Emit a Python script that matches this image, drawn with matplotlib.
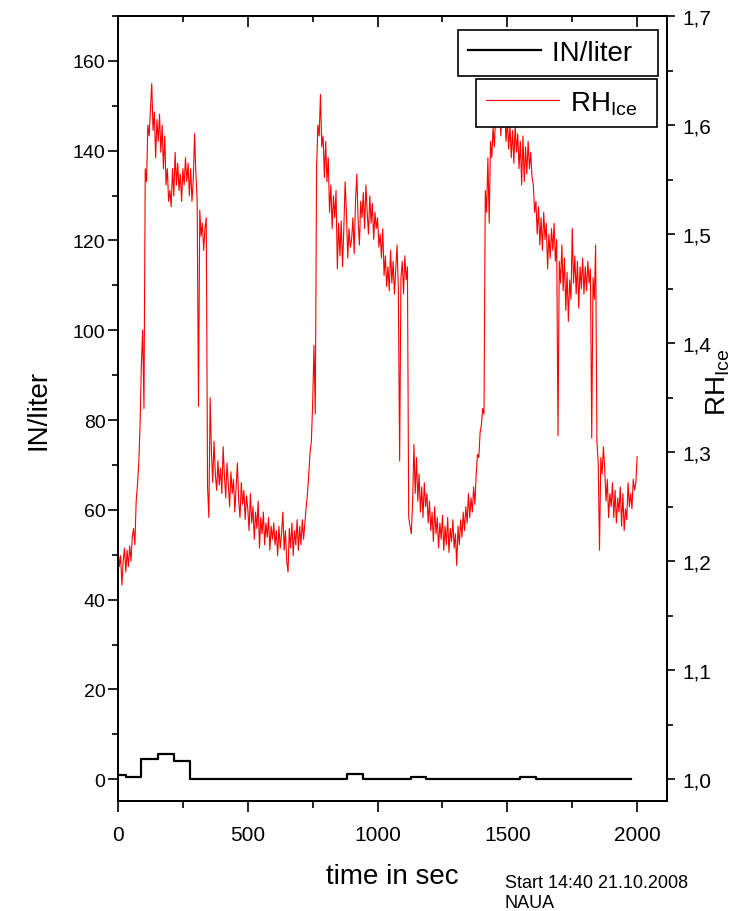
import numpy as np
import matplotlib
matplotlib.use('Agg')
import matplotlib.pyplot as plt
from matplotlib.ticker import MultipleLocator, FixedLocator, FixedFormatter

plt.rcParams['font.family'] = ['Liberation Sans', 'DejaVu Sans']
plt.rcParams['mathtext.fontset'] = 'custom'
plt.rcParams['mathtext.rm'] = 'Liberation Sans'
plt.rcParams['mathtext.it'] = 'Liberation Sans:italic'

# ---------------- data ----------------
# IN/liter step series (bin edges in s, value per bin)
in_edges = [0, 30, 90, 155, 214, 277, 882, 944, 1127, 1187, 1550, 1612, 1978]
in_values = [1.0, 0.5, 4.5, 5.6, 4.1, 0.0, 1.1, 0.0, 0.5, 0.0, 0.5, 0.0]

# RH_ice series, one value every 5 s starting at t = 0
rh_step = 5
rh_values = [
    1.214, 1.195, 1.205, 1.178, 1.200, 1.212, 1.190, 1.210, 1.195, 1.214, 1.200, 1.222, 1.230, 1.215, 1.255, 1.270, 1.290, 1.325, 1.380, 1.412,
    1.340, 1.560, 1.548, 1.600, 1.590, 1.615, 1.638, 1.595, 1.612, 1.570, 1.605, 1.585, 1.610, 1.575, 1.600, 1.560, 1.590, 1.545, 1.560, 1.530,
    1.540, 1.525, 1.560, 1.535, 1.575, 1.545, 1.565, 1.540, 1.555, 1.530, 1.560, 1.545, 1.570, 1.548, 1.565, 1.535, 1.560, 1.530, 1.550, 1.592,
    1.555, 1.530, 1.342, 1.522, 1.498, 1.510, 1.485, 1.505, 1.515, 1.268, 1.240, 1.350, 1.300, 1.272, 1.310, 1.280, 1.265, 1.292, 1.270, 1.285,
    1.262, 1.305, 1.278, 1.258, 1.290, 1.270, 1.250, 1.282, 1.262, 1.275, 1.245, 1.268, 1.290, 1.255, 1.240, 1.272, 1.252, 1.265, 1.238, 1.260,
    1.248, 1.228, 1.262, 1.235, 1.250, 1.220, 1.245, 1.230, 1.255, 1.212, 1.240, 1.225, 1.245, 1.215, 1.235, 1.222, 1.240, 1.210, 1.232, 1.220,
    1.235, 1.215, 1.228, 1.205, 1.232, 1.212, 1.225, 1.245, 1.210, 1.228, 1.200, 1.190, 1.230, 1.212, 1.235, 1.205, 1.228, 1.215, 1.238, 1.210,
    1.232, 1.215, 1.238, 1.220, 1.235, 1.250, 1.262, 1.280, 1.300, 1.310, 1.345, 1.398, 1.335, 1.560, 1.600, 1.590, 1.628, 1.580, 1.590, 1.552,
    1.585, 1.548, 1.570, 1.520, 1.545, 1.505, 1.535, 1.515, 1.540, 1.468, 1.510, 1.480, 1.512, 1.470, 1.505, 1.548, 1.520, 1.478, 1.505, 1.488,
    1.495, 1.515, 1.482, 1.530, 1.555, 1.512, 1.490, 1.530, 1.515, 1.538, 1.505, 1.545, 1.520, 1.500, 1.535, 1.510, 1.528, 1.495, 1.520, 1.505,
    1.515, 1.488, 1.500, 1.478, 1.505, 1.462, 1.480, 1.452, 1.470, 1.448, 1.485, 1.455, 1.475, 1.445, 1.468, 1.490, 1.450, 1.292, 1.460, 1.475,
    1.445, 1.480, 1.458, 1.470, 1.240, 1.232, 1.225, 1.255, 1.307, 1.262, 1.295, 1.255, 1.280, 1.245, 1.268, 1.240, 1.272, 1.250, 1.262, 1.235,
    1.255, 1.228, 1.245, 1.218, 1.250, 1.225, 1.240, 1.212, 1.235, 1.220, 1.242, 1.210, 1.232, 1.215, 1.240, 1.208, 1.230, 1.218, 1.238, 1.212,
    1.225, 1.196, 1.232, 1.215, 1.238, 1.222, 1.245, 1.228, 1.250, 1.235, 1.262, 1.240, 1.258, 1.245, 1.268, 1.252, 1.280, 1.298, 1.295, 1.318,
    1.325, 1.340, 1.335, 1.540, 1.520, 1.570, 1.510, 1.585, 1.570, 1.598, 1.580, 1.610, 1.640, 1.600, 1.615, 1.590, 1.620, 1.598, 1.612, 1.585,
    1.605, 1.578, 1.600, 1.570, 1.595, 1.565, 1.600, 1.575, 1.592, 1.560, 1.585, 1.545, 1.590, 1.548, 1.580, 1.555, 1.585, 1.560, 1.575, 1.552,
    1.545, 1.520, 1.530, 1.500, 1.525, 1.490, 1.515, 1.485, 1.520, 1.495, 1.510, 1.468, 1.500, 1.478, 1.505, 1.485, 1.510, 1.475, 1.495, 1.315,
    1.475, 1.455, 1.490, 1.448, 1.478, 1.430, 1.465, 1.420, 1.458, 1.440, 1.505, 1.455, 1.480, 1.445, 1.475, 1.432, 1.470, 1.450, 1.478, 1.445,
    1.470, 1.448, 1.475, 1.455, 1.468, 1.313, 1.460, 1.440, 1.490, 1.310, 1.290, 1.210, 1.295, 1.280, 1.305, 1.285, 1.255, 1.275, 1.240, 1.262,
    1.250, 1.272, 1.240, 1.265, 1.235, 1.258, 1.245, 1.268, 1.232, 1.262, 1.228, 1.248, 1.238, 1.272, 1.250, 1.262, 1.248, 1.275, 1.265, 1.272, 1.296,
]

x_ticks = [0, 500, 1000, 1500, 2000]
left_ticks = [0, 20, 40, 60, 80, 100, 120, 140, 160]
right_ticks = [1.0, 1.1, 1.2, 1.3, 1.4, 1.5, 1.6, 1.7]
right_tick_labels = ['1,0', '1,1', '1,2', '1,3', '1,4', '1,5', '1,6', '1,7']

label_in = 'IN/liter'
label_rh = r'RH$_{\mathregular{Ice}}$'
label_x = 'time in sec'
note_lines = ['Start 14:40 21.10.2008', 'NAUA']

# ---------------- figure ----------------
W, H = 744, 912
fig = plt.figure(figsize=(W / 100, H / 100), dpi=100)
fig.patch.set_facecolor('white')
ax = fig.add_axes([118 / W, (H - 802) / H, 549 / W, 785 / H])
ax2 = ax.twinx()

line_in, = ax.step(in_edges, in_values + [in_values[-1]], where='post',
                   color='black', lw=1.6, label=label_in)
t = np.arange(len(rh_values)) * rh_step
line_rh, = ax2.plot(t, rh_values, color='red', lw=0.8, label=label_rh)

ax.set_xlim(0, 2115)
ax.set_ylim(-4.86, 170)
ax2.set_ylim(0.98, 1.70)

# ticks
ax.xaxis.set_major_locator(FixedLocator(x_ticks))
ax.xaxis.set_minor_locator(MultipleLocator(250))
ax.yaxis.set_major_locator(FixedLocator(left_ticks))
ax.yaxis.set_minor_locator(MultipleLocator(10))
ax2.yaxis.set_major_locator(FixedLocator(right_ticks))
ax2.yaxis.set_major_formatter(FixedFormatter(right_tick_labels))
ax2.yaxis.set_minor_locator(MultipleLocator(0.05))

ax.tick_params(axis='x', which='major', direction='out', length=8, width=1.2,
               labelsize=15, pad=9)
ax.tick_params(axis='x', which='minor', direction='out', length=5, width=1.2)
ax.tick_params(axis='y', which='major', direction='out', length=7, width=1.2,
               labelsize=14, pad=2)
ax.tick_params(axis='y', which='minor', direction='out', length=4, width=1.2)
ax2.tick_params(axis='y', which='major', direction='out', length=6, width=1.2,
                labelsize=15, pad=5)
ax2.tick_params(axis='y', which='minor', direction='out', length=4, width=1.2)

sec = ax.secondary_xaxis('top')
sec.xaxis.set_major_locator(FixedLocator(x_ticks))
sec.xaxis.set_minor_locator(MultipleLocator(250))
sec.tick_params(which='major', direction='in', length=8, width=1.2, labeltop=False)
sec.tick_params(which='minor', direction='in', length=4, width=1.2)
sec.spines['top'].set_linewidth(1.3)

for a in (ax, ax2):
    for s in a.spines.values():
        s.set_linewidth(1.3)

ax.set_xlabel(label_x, fontsize=20, labelpad=14)
ax.set_ylabel(label_in, fontsize=20)
ax.yaxis.set_label_coords(-0.122, 0.5)
ax2.set_ylabel(label_rh, fontsize=20)
ax2.yaxis.set_label_coords(1.068, 0.535)

# legends (two separate boxes, Origin style)
common = dict(fontsize=20, frameon=True, fancybox=False, edgecolor='black',
              framealpha=1, handlelength=2.65, handletextpad=0.4,
              borderpad=0.36, borderaxespad=0, loc='upper right',
              bbox_transform=fig.transFigure)
leg1 = ax2.legend([line_in], [label_in + '  '], bbox_to_anchor=(658 / W, 1 - 31 / H), **common)
leg1.get_frame().set_linewidth(1.2)
ax2.add_artist(leg1)
leg2 = ax2.legend([line_rh], [label_rh + '  '], bbox_to_anchor=(657 / W, 1 - 80 / H), **common)
leg2.get_frame().set_linewidth(1.2)

fig.text(505 / W, 1 - 884 / H, note_lines[0], fontsize=13, va='center', ha='left')
fig.text(505 / W, 1 - 904 / H, note_lines[1], fontsize=13, va='center', ha='left')

fig.savefig('out.png', dpi=100, facecolor='white')
